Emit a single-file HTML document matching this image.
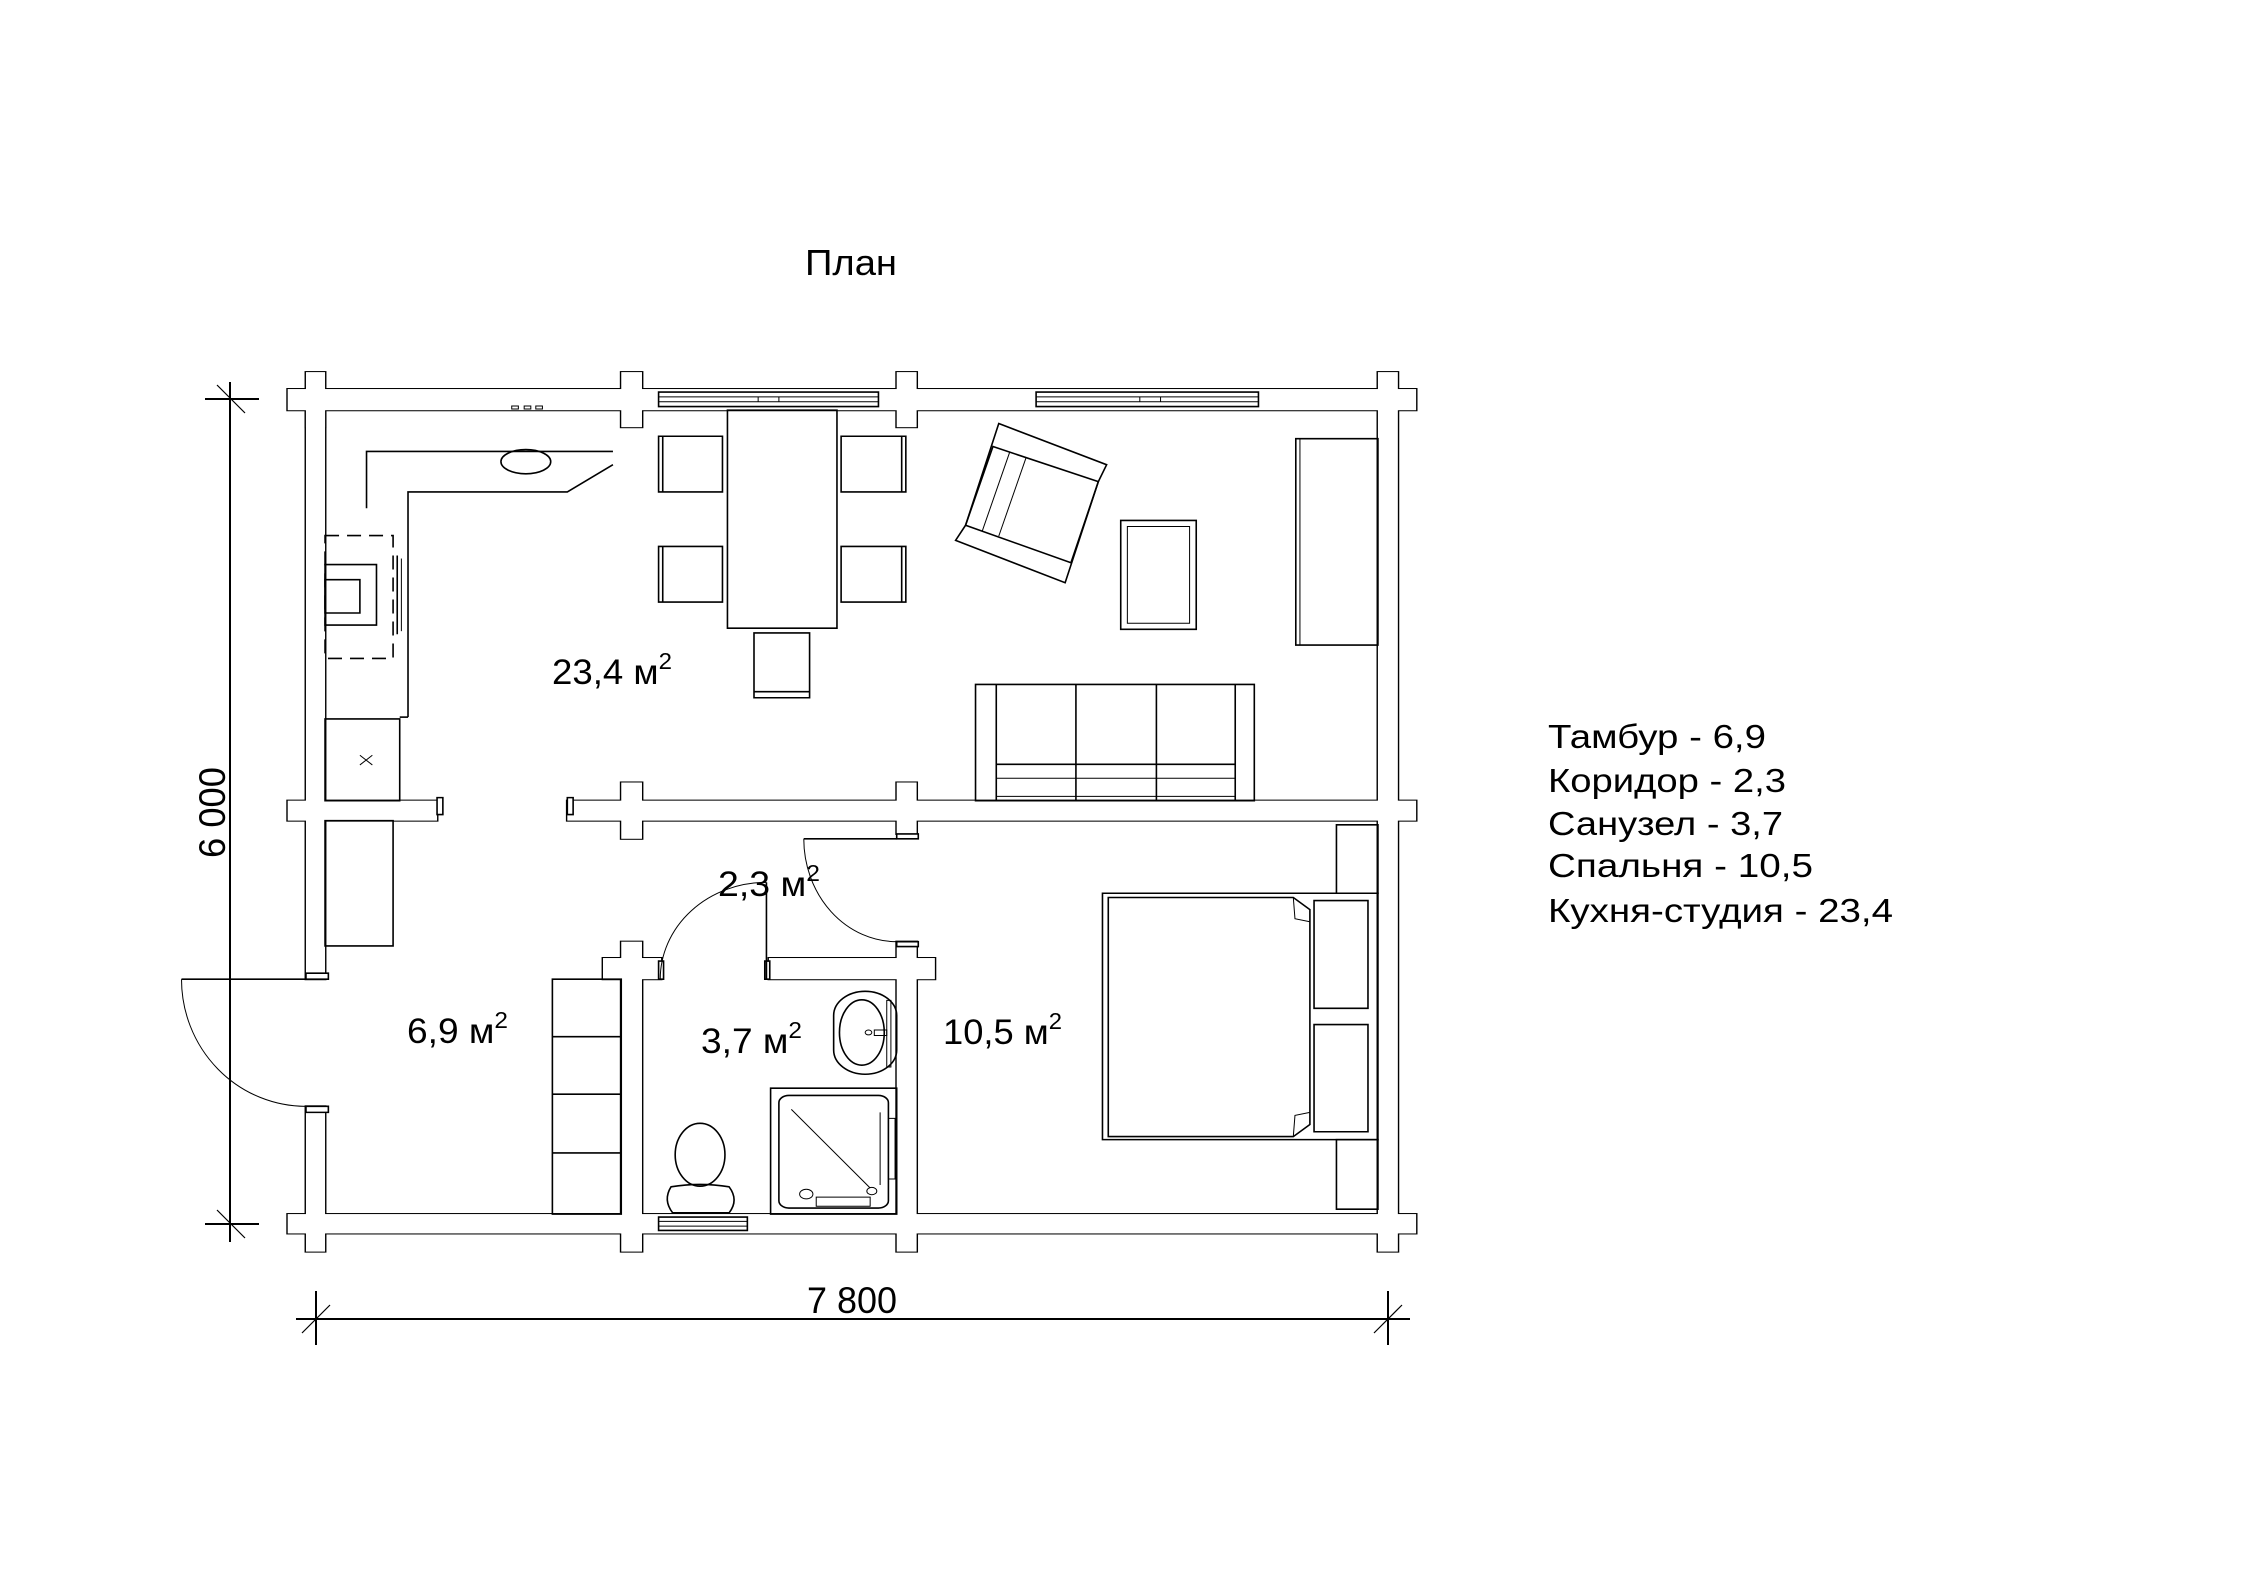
<!DOCTYPE html>
<html><head><meta charset="utf-8"><style>
html,body{margin:0;padding:0;background:#fff;}
svg{display:block;}
text{font-family:"Liberation Sans",Arial,sans-serif;fill:#000;}
.f{fill:none;stroke:#000;stroke-width:1.6;vector-effect:non-scaling-stroke;}
.t{fill:none;stroke:#000;stroke-width:1;vector-effect:non-scaling-stroke;}
.wb{fill:#000;stroke:#000;stroke-width:3.4;vector-effect:non-scaling-stroke;}
.ww{fill:#fff;stroke:none;}
.wf{fill:#fff;stroke:#000;stroke-width:1.6;vector-effect:non-scaling-stroke;}
</style></head><body>
<svg width="2245" height="1587" viewBox="0 0 2245 1587" xmlns="http://www.w3.org/2000/svg">
<rect width="2245" height="1587" fill="#fff"/>
<defs>
<g id="walls">
  <rect x="108" y="65" width="1360" height="35"/>
  <rect x="130" y="37" width="23" height="91"/>
  <rect x="510" y="37" width="25" height="91"/>
  <rect x="842" y="37" width="24" height="91"/>
  <rect x="1422" y="37" width="24" height="1453"/>
  <rect x="130" y="65" width="23" height="975"/>
  <rect x="130" y="1250" width="23" height="240"/>
  <rect x="108" y="745" width="180" height="33"/>
  <rect x="445" y="745" width="1023" height="33"/>
  <rect x="510" y="715" width="25" height="93"/>
  <rect x="842" y="715" width="24" height="85"/>
  <rect x="108" y="1428" width="1360" height="32"/>
  <rect x="510" y="978" width="25" height="512"/>
  <rect x="842" y="978" width="24" height="512"/>
  <rect x="488" y="1005" width="70" height="35"/>
  <rect x="688" y="1005" width="200" height="35"/>
</g>
</defs>
<g transform="translate(198.1,349.7) scale(0.8297,0.6053)">
  <use href="#walls" class="wb"/>
  <use href="#walls" class="ww"/>
  <rect class="wf" x="130" y="1030" width="27" height="10"/>
  <rect class="wf" x="130" y="1250" width="27" height="10"/>
  <rect class="wf" x="288" y="740" width="7" height="28"/>
  <rect class="wf" x="445" y="740" width="7" height="28"/>
  <rect class="wf" x="842" y="800" width="26" height="8"/>
  <rect class="wf" x="842" y="978" width="26" height="8"/>
  <rect class="wf" x="555" y="1010" width="6" height="30"/>
  <rect class="wf" x="683" y="1010" width="6" height="30"/>
  <rect class="wf" x="555" y="70" width="265" height="24"/>
  <line class="t" x1="555" y1="78" x2="820" y2="78"/><line class="t" x1="555" y1="86" x2="820" y2="86"/>
  <line class="t" x1="675" y1="78" x2="675" y2="86"/><line class="t" x1="700" y1="78" x2="700" y2="86"/>
  <rect class="wf" x="1010" y="70" width="268" height="24"/>
  <line class="t" x1="1010" y1="78" x2="1278" y2="78"/><line class="t" x1="1010" y1="86" x2="1278" y2="86"/>
  <line class="t" x1="1135" y1="78" x2="1135" y2="86"/><line class="t" x1="1160" y1="78" x2="1160" y2="86"/>
  <rect class="wf" x="555" y="1433" width="107" height="22"/>
  <line class="t" x1="555" y1="1440" x2="662" y2="1440"/><line class="t" x1="555" y1="1448" x2="662" y2="1448"/>
  <polyline class="f" points="203,262 203,168 500,168"/>
  <polyline class="f" points="253,607 253,235 445,235 500,190"/>
  <ellipse class="f" cx="395" cy="185" rx="30" ry="20"/>
  <rect class="t" x="378" y="93" width="8" height="5"/><rect class="t" x="393" y="93" width="8" height="5"/><rect class="t" x="407" y="93" width="8" height="5"/>
  <rect class="f" x="153" y="307" width="82" height="203" stroke-dasharray="14,8"/>
  <rect class="f" x="153" y="355" width="62" height="100"/>
  <rect class="f" x="153" y="380" width="42" height="55"/>
  <line class="f" x1="240" y1="340" x2="240" y2="470"/><line class="t" x1="245" y1="345" x2="245" y2="465"/>
  <rect class="f" x="153" y="610" width="90" height="135"/>
  <line class="f" x1="243" y1="607" x2="253" y2="607"/>
  <path class="t" d="M195,670 L210,686 M210,670 L195,686"/>
  <rect class="f" x="153" y="778" width="82" height="207"/>
  <rect class="f" x="638" y="100" width="132" height="360"/>
  <rect class="f" x="555" y="143" width="77" height="92"/><line class="f" x1="560" y1="143" x2="560" y2="235"/>
  <rect class="f" x="775" y="143" width="78" height="92"/><line class="f" x1="848" y1="143" x2="848" y2="235"/>
  <rect class="f" x="555" y="325" width="77" height="92"/><line class="f" x1="560" y1="325" x2="560" y2="417"/>
  <rect class="f" x="775" y="325" width="78" height="92"/><line class="f" x1="848" y1="325" x2="848" y2="417"/>
  <rect class="f" x="670" y="468" width="67" height="107"/><line class="f" x1="670" y1="565" x2="737" y2="565"/>
  <polygon class="f" points="965,122 1095,190 1085,218 1045,385 913,315 925,290"/>
  <polygon class="f" points="958,160 1085,218 1052,352 925,290"/>
  <line class="t" x1="978" y1="170" x2="945" y2="300"/><line class="t" x1="998" y1="178" x2="965" y2="308"/>
  <rect class="f" x="1112" y="282" width="91" height="180"/><rect class="t" x="1120" y="292" width="75" height="160"/>
  <rect class="f" x="1323" y="147" width="99" height="341"/><line class="t" x1="1328" y1="147" x2="1328" y2="488"/>
  <rect class="f" x="937" y="553" width="336" height="192"/>
  <line class="f" x1="962" y1="553" x2="962" y2="745"/><line class="f" x1="1250" y1="553" x2="1250" y2="745"/>
  <line class="f" x1="1058" y1="553" x2="1058" y2="745"/><line class="f" x1="1155" y1="553" x2="1155" y2="745"/>
  <line class="f" x1="962" y1="685" x2="1250" y2="685"/><line class="t" x1="962" y1="708" x2="1250" y2="708"/><line class="t" x1="962" y1="738" x2="1250" y2="738"/>
  <line class="f" x1="-20" y1="1040" x2="130" y2="1040"/>
  <path class="t" d="M-20,1040 A150,210 0 0 0 130,1250"/>
  <line class="f" x1="685" y1="880" x2="685" y2="1040"/>
  <path class="t" d="M557,1040 A128,160 0 0 1 685,880"/>
  <line class="f" x1="730" y1="808" x2="842" y2="808"/>
  <path class="t" d="M730,808 A112,170 0 0 0 842,978"/>
  <rect class="f" x="427" y="1040" width="83" height="388"/>
  <line class="f" x1="427" y1="1135" x2="510" y2="1135"/><line class="f" x1="427" y1="1230" x2="510" y2="1230"/><line class="f" x1="427" y1="1327" x2="510" y2="1327"/>
  <rect class="f" x="766" y="1060" width="76" height="137" rx="38" ry="40"/>
  <ellipse class="f" cx="800" cy="1128" rx="27" ry="54"/>
  <rect class="t" x="830" y="1075" width="5" height="110"/>
  <circle class="t" cx="808" cy="1128" r="4"/><rect class="t" x="815" y="1124" width="15" height="9"/>
  <rect class="f" x="690" y="1220" width="152" height="208"/>
  <rect class="f" x="700" y="1232" width="132" height="186" rx="12" ry="12"/>
  <line class="t" x1="715" y1="1255" x2="810" y2="1385"/><line class="t" x1="822" y1="1260" x2="822" y2="1380"/>
  <circle class="t" cx="812" cy="1390" r="6"/>
  <rect class="t" x="832" y="1270" width="8" height="100"/>
  <rect class="t" x="745" y="1400" width="65" height="15"/><circle class="t" cx="733" cy="1395" r="8"/>
  <ellipse class="f" cx="605" cy="1330" rx="30" ry="52"/>
  <path class="f" d="M570,1383 Q605,1375 640,1383 Q652,1405 640,1426 L572,1426 Q560,1405 570,1383 Z"/>
  <rect class="f" x="1372" y="785" width="50" height="113"/>
  <rect class="f" x="1372" y="1305" width="50" height="115"/>
  <rect class="f" x="1090" y="898" width="332" height="407"/>
  <rect class="f" x="1345" y="910" width="65" height="178"/><rect class="f" x="1345" y="1115" width="65" height="177"/>
  <path class="f" d="M1097,905 L1320,905 L1340,925 L1340,1280 L1320,1300 L1097,1300 Z"/>
  <path class="t" d="M1320,905 L1322,940 L1340,945 M1320,1300 L1322,1265 L1340,1260"/>
</g>
<g stroke="#000" stroke-width="2" fill="none">
  <line x1="230" y1="382" x2="230" y2="1242"/>
  <line x1="205" y1="399" x2="259" y2="399"/>
  <line x1="205" y1="1224" x2="259" y2="1224"/>
  <line x1="296" y1="1319" x2="1410" y2="1319"/>
  <line x1="316" y1="1291" x2="316" y2="1345"/>
  <line x1="1388" y1="1291" x2="1388" y2="1345"/>
</g>
<g stroke="#000" stroke-width="1.2" fill="none">
  <line x1="217" y1="385" x2="245" y2="413"/>
  <line x1="217" y1="1210" x2="245" y2="1238"/>
  <line x1="302" y1="1333" x2="330" y2="1305"/>
  <line x1="1374" y1="1333" x2="1402" y2="1305"/>
</g>
<text x="805" y="275" font-size="36" textLength="92" lengthAdjust="spacingAndGlyphs">План</text>
<text x="807" y="1313" font-size="37" textLength="90" lengthAdjust="spacingAndGlyphs">7 800</text>
<text transform="translate(225,858) rotate(-90)" font-size="37" textLength="91" lengthAdjust="spacingAndGlyphs">6 000</text>
<g font-size="35">
<text x="552" y="684" textLength="120" lengthAdjust="spacingAndGlyphs">23,4 м<tspan font-size="23" dy="-15">2</tspan></text>
<text x="718" y="896" textLength="102" lengthAdjust="spacingAndGlyphs">2,3 м<tspan font-size="23" dy="-15">2</tspan></text>
<text x="407" y="1043" textLength="101" lengthAdjust="spacingAndGlyphs">6,9 м<tspan font-size="23" dy="-15">2</tspan></text>
<text x="701" y="1053" textLength="101" lengthAdjust="spacingAndGlyphs">3,7 м<tspan font-size="23" dy="-15">2</tspan></text>
<text x="943" y="1044" textLength="119" lengthAdjust="spacingAndGlyphs">10,5 м<tspan font-size="23" dy="-15">2</tspan></text>
</g>
<g font-size="33">
<text x="1548" y="748" textLength="218" lengthAdjust="spacingAndGlyphs">Тамбур - 6,9</text>
<text x="1548" y="792" textLength="238" lengthAdjust="spacingAndGlyphs">Коридор - 2,3</text>
<text x="1548" y="835" textLength="235" lengthAdjust="spacingAndGlyphs">Санузел - 3,7</text>
<text x="1548" y="877" textLength="265" lengthAdjust="spacingAndGlyphs">Спальня - 10,5</text>
<text x="1548" y="922" textLength="345" lengthAdjust="spacingAndGlyphs">Кухня-студия - 23,4</text>
</g>
</svg>
</body></html>
